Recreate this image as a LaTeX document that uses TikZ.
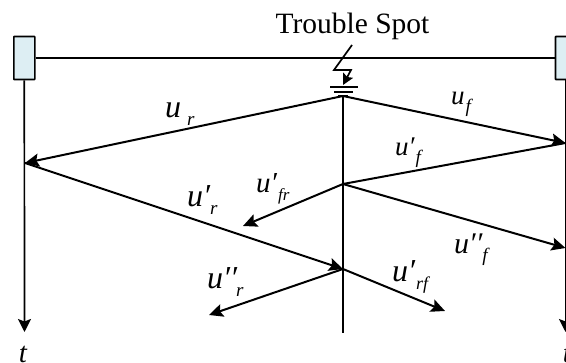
\documentclass[tikz,border=0pt]{standalone}
\usepackage{fontspec}
\setmainfont{Liberation Serif}
\usetikzlibrary{arrows.meta}
% size, primes, gap, subscript
\newcommand{\wavelab}[4]{{\fontsize{#1}{#1}\selectfont\itshape u#2}\hspace{#3pt}\raisebox{-8pt}{\fontsize{19}{19}\selectfont\itshape #4}}
\newcommand{\pr}{\char"2032\relax}
\tikzset{
  wire/.style={line width=2pt,line cap=butt},
  wave/.style={line width=2pt,-{Stealth[length=14pt,width=13pt,inset=2.5pt]}},
  thin wave/.style={line width=1.7pt,-{Stealth[length=13pt,width=13pt,inset=2.5pt]}},
  bus/.style={draw=black,line width=1.6pt,fill=boxblue,rounded corners=0.5pt,minimum width=21pt,minimum height=43pt,inner sep=0pt},
  lab/.style={inner sep=0pt,anchor=base west},
}
\definecolor{boxblue}{HTML}{DDEEF3}
\begin{document}
\begin{tikzpicture}[x=1pt,y=-1pt]
\useasboundingbox (0,0) rectangle (566,363);
\clip (0,0) rectangle (566,363);
\coordinate (F) at (343,96);
\coordinate (L) at (25,163);
\coordinate (R) at (565.5,143);
\coordinate (J1) at (343,184);
\coordinate (J2) at (343,269);
\coordinate (A1) at (243,226);
\coordinate (A2) at (565.5,248);
\coordinate (A3) at (445,311);
\coordinate (A4) at (209,315);
\coordinate (Cend) at (343,333);
\coordinate (Lend) at (24.5,332);
\coordinate (Rend) at (565.5,332);
\node[bus] (B1) at (24.3,58) {};
\node[bus] (B2) at (566,58) {};
\draw[wire] (B1.east |- 0,58) -- (B2.west |- 0,58);
\draw[thin wave] (B1.south) -- (Lend);
\draw[thin wave] (B2.south -| Rend) -- (Rend);
\draw[wire] (F) -- (Cend);
\draw[wave] (F) -- (L);
\draw[wave] (F) -- (R);
\draw[wire] (R) -- (J1);
\draw[wave] (J1) -- (A1);
\draw[wave] (J1) -- (A2);
\draw[wave] (L) -- (J2);
\draw[wave] (J2) -- (A3);
\draw[wave] (J2) -- (A4);
% trouble spot symbol
\coordinate (Z1) at (352,45);
\coordinate (Z2) at (334,70);
\coordinate (Z3) at (351,70);
\coordinate (Z4) at (343,85);
\draw[line width=1.7pt,-{Stealth[length=11pt,width=11pt,inset=2pt]}] (Z1) -- (Z2) -- (Z3) -- (Z4);
\coordinate (G1a) at (330,87); \coordinate (G1b) at (358,87);
\coordinate (G2a) at (334,92); \coordinate (G2b) at (353,92);
\coordinate (G3a) at (338,96); \coordinate (G3b) at (348,96);
\draw[line width=1.6pt] (G1a) -- (G1b);
\draw[line width=1.6pt] (G2a) -- (G2b);
\draw[line width=2.2pt] (G3a) -- (G3b);
\node[inner sep=0pt,anchor=base] (TS) at (352.5,34) {\fontsize{29.5}{29.5}\selectfont Trouble Spot};
\node[lab] (lur) at (165,118) {\wavelab{32}{}{6}{r}};
\node[lab] (luf) at (451,105) {\wavelab{27}{}{1}{f}};
\node[lab] (lupf) at (395,156) {\wavelab{27}{\pr}{1}{f}};
\node[lab] (lupfr) at (256,193) {\wavelab{29}{\pr}{1}{\fontsize{17}{17}\selectfont fr}};
\node[lab] (lupr) at (187,207) {\wavelab{32}{\pr}{0}{r}};
\node[lab] (luppf) at (454,254) {\wavelab{30}{\pr\pr}{0}{f}};
\node[lab] (luppr) at (207,289) {\wavelab{32}{\pr\pr}{-1}{r}};
\node[lab] (luprf) at (392,282) {\wavelab{32}{\pr}{1}{\fontsize{18}{18}\selectfont rf}};
\node[inner sep=0pt,anchor=base] (t1) at (23,362.5) {\fontsize{29}{29}\selectfont\itshape t};
\node[inner sep=0pt,anchor=base] (t2) at (567,362.5) {\fontsize{29}{29}\selectfont\itshape t};
\end{tikzpicture}
\end{document}
